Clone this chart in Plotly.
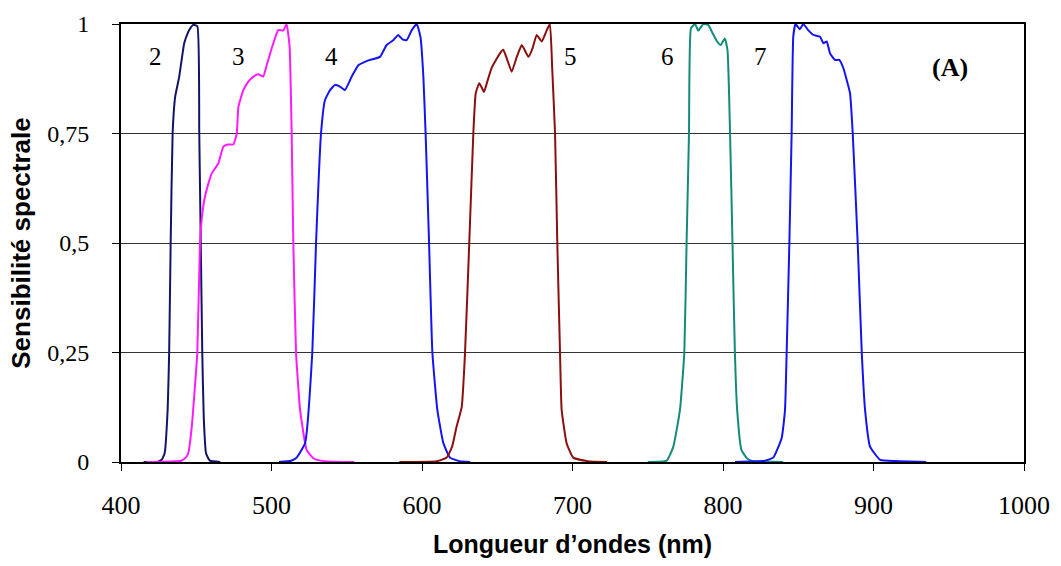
import plotly.graph_objects as go

# Band 2 (navy)
wl2 = [415, 424, 427, 429, 431, 432, 433, 434.3, 436, 438.7, 442, 444.7, 446, 448, 450.7, 452, 453, 454, 455, 456.5, 459, 466]
s2 = [0, 0, 0.005, 0.02, 0.12, 0.25, 0.5, 0.75, 0.834, 0.88, 0.956, 0.982, 0.99, 0.998, 0.995, 0.75, 0.5, 0.25, 0.1, 0.02, 0.003, 0]
# Band 3 (magenta)
wl3 = [417, 440, 443, 444.7, 447, 450.7, 452.5, 454.3, 455.8, 458, 460.3, 464.7, 468, 471, 474.6, 476.9, 478, 481.3, 485, 488, 491.2, 494.5, 496.8, 501.2, 504.5, 507.8, 510, 512, 513.4, 514.5, 516.3, 519, 523.4, 528, 535, 555]
s3 = [0, 0.003, 0.01, 0.02, 0.08, 0.25, 0.5, 0.575, 0.606, 0.635, 0.659, 0.682, 0.72, 0.725, 0.725, 0.75, 0.811, 0.849, 0.87, 0.88, 0.885, 0.88, 0.906, 0.956, 0.986, 0.985, 1.0, 0.95, 0.75, 0.5, 0.25, 0.119, 0.027, 0.008, 0.002, 0]
# Band 4 (blue)
wl4 = [505, 513, 516.7, 522.3, 527.1, 529.6, 532.9, 535.5, 538.9, 542.2, 545.5, 548.8, 553.3, 557.7, 561, 565.4, 572.1, 576.5, 580.9, 584.2, 587, 589.8, 593.2, 596.5, 599, 600.9, 602.4, 604.7, 606.9, 610.2, 614.2, 618.6, 625, 632]
s4 = [0, 0.003, 0.01, 0.043, 0.25, 0.5, 0.75, 0.826, 0.849, 0.861, 0.857, 0.849, 0.88, 0.906, 0.912, 0.918, 0.925, 0.952, 0.963, 0.975, 0.965, 0.963, 0.986, 1.0, 0.97, 0.88, 0.75, 0.5, 0.25, 0.119, 0.043, 0.01, 0.002, 0]
# Band 5 (dark red)
wl5 = [585, 610, 616.4, 620, 623, 626.4, 628.6, 631.4, 634.1, 635.7, 638.1, 641.2, 643.5, 646.3, 651.8, 654, 656.5, 659.6, 663, 666.3, 670.7, 673.5, 676.2, 679.6, 682.9, 685, 686.5, 688.4, 689.9, 691.7, 692.8, 696.1, 700.5, 710, 723]
s5 = [0, 0.002, 0.01, 0.035, 0.081, 0.126, 0.25, 0.5, 0.75, 0.842, 0.865, 0.845, 0.87, 0.9, 0.933, 0.941, 0.92, 0.891, 0.925, 0.952, 0.925, 0.945, 0.975, 0.96, 0.986, 1.0, 0.9, 0.75, 0.5, 0.25, 0.119, 0.043, 0.01, 0.002, 0]
# Band 6 (teal)
wl6 = [750, 762.6, 767, 771.4, 774.3, 775.8, 777.4, 778.7, 781.4, 783.6, 786.9, 790.2, 793.1, 796.1, 798.4, 801.2, 803, 804.7, 806.3, 807.9, 809.4, 812.3, 816, 820, 840]
s6 = [0, 0.003, 0.035, 0.119, 0.25, 0.5, 0.75, 0.99, 1.0, 0.985, 1.0, 0.998, 0.979, 0.96, 0.952, 0.967, 0.94, 0.75, 0.5, 0.25, 0.119, 0.027, 0.008, 0.002, 0]
# Band 7 (blue)
wl7 = [808, 828, 833.4, 839, 841.2, 842.3, 844.1, 845.6, 846.7, 848.2, 851.1, 853.3, 856.6, 860, 864.5, 866.7, 868.9, 871.1, 874.4, 877.3, 880, 882.2, 884.4, 886.2, 889.5, 892.2, 894.4, 897.7, 904.4, 915, 935]
s7 = [0, 0.003, 0.01, 0.055, 0.119, 0.25, 0.5, 0.75, 0.972, 1.0, 0.988, 1.0, 0.986, 0.975, 0.971, 0.956, 0.96, 0.933, 0.918, 0.918, 0.899, 0.872, 0.842, 0.75, 0.5, 0.25, 0.119, 0.035, 0.005, 0.002, 0]

band_labels = ["2", "3", "4", "5", "6", "7"]
label_x = [423, 478, 540, 699, 763, 825]
label_y = [0.925, 0.925, 0.925, 0.925, 0.925, 0.925]

x_ticks = [400, 500, 600, 700, 800, 900, 1000]
y_ticks = [0, 0.25, 0.5, 0.75, 1]
y_ticktext = ["0", "0,25", "0,5", "0,75", "1"]

series = [
    (wl2, s2, "#141466"),
    (wl3, s3, "#ff1aff"),
    (wl4, s4, "#1414f0"),
    (wl5, s5, "#8a0f0f"),
    (wl6, s6, "#148a7a"),
    (wl7, s7, "#1414f0"),
]

fig = go.Figure()
for xs, ys, col in series:
    fig.add_trace(go.Scatter(x=xs, y=ys, mode="lines", line=dict(color=col, width=2, shape="spline", smoothing=0.4),
                             showlegend=False, hoverinfo="skip"))

for t, lx, ly in zip(band_labels, label_x, label_y):
    fig.add_annotation(x=lx, y=ly, text=t, showarrow=False,
                       font=dict(family="Liberation Serif", size=25, color="black"))
fig.add_annotation(x=951, y=0.9, text="<b>(A)</b>", showarrow=False,
                   font=dict(family="Liberation Serif", size=26, color="black"))

fig.update_layout(
    width=1061, height=566,
    margin=dict(l=121, r=37, t=24, b=104),
    paper_bgcolor="white", plot_bgcolor="white",
    xaxis=dict(range=[400, 1000], tickvals=x_ticks, showgrid=False, zeroline=False,
               automargin=False,
               showline=True, linecolor="black", linewidth=2, mirror=True,
               ticks="outside", ticklen=7, tickcolor="black", tickwidth=1,
               ticklabelstandoff=12,
               tickfont=dict(family="Liberation Serif", size=26, color="black"),
               title=dict(text="<b>Longueur d’ondes (nm)</b>", standoff=16,
                          font=dict(family="Liberation Sans", size=25, color="black"))),
    yaxis=dict(range=[0, 1], tickvals=y_ticks, ticktext=y_ticktext,
               automargin=False,
               showgrid=True, gridcolor="#333333", gridwidth=1, zeroline=False,
               showline=True, linecolor="black", linewidth=2, mirror=True,
               ticks="outside", ticklen=7, tickcolor="black", tickwidth=1,
               ticklabelstandoff=18,
               tickfont=dict(family="Liberation Serif", size=24, color="black"),
               title=dict(text="<b>Sensibilité spectrale</b>", standoff=9,
                          font=dict(family="Liberation Sans", size=26, color="black"))),
)

fig.write_html("out.html")
